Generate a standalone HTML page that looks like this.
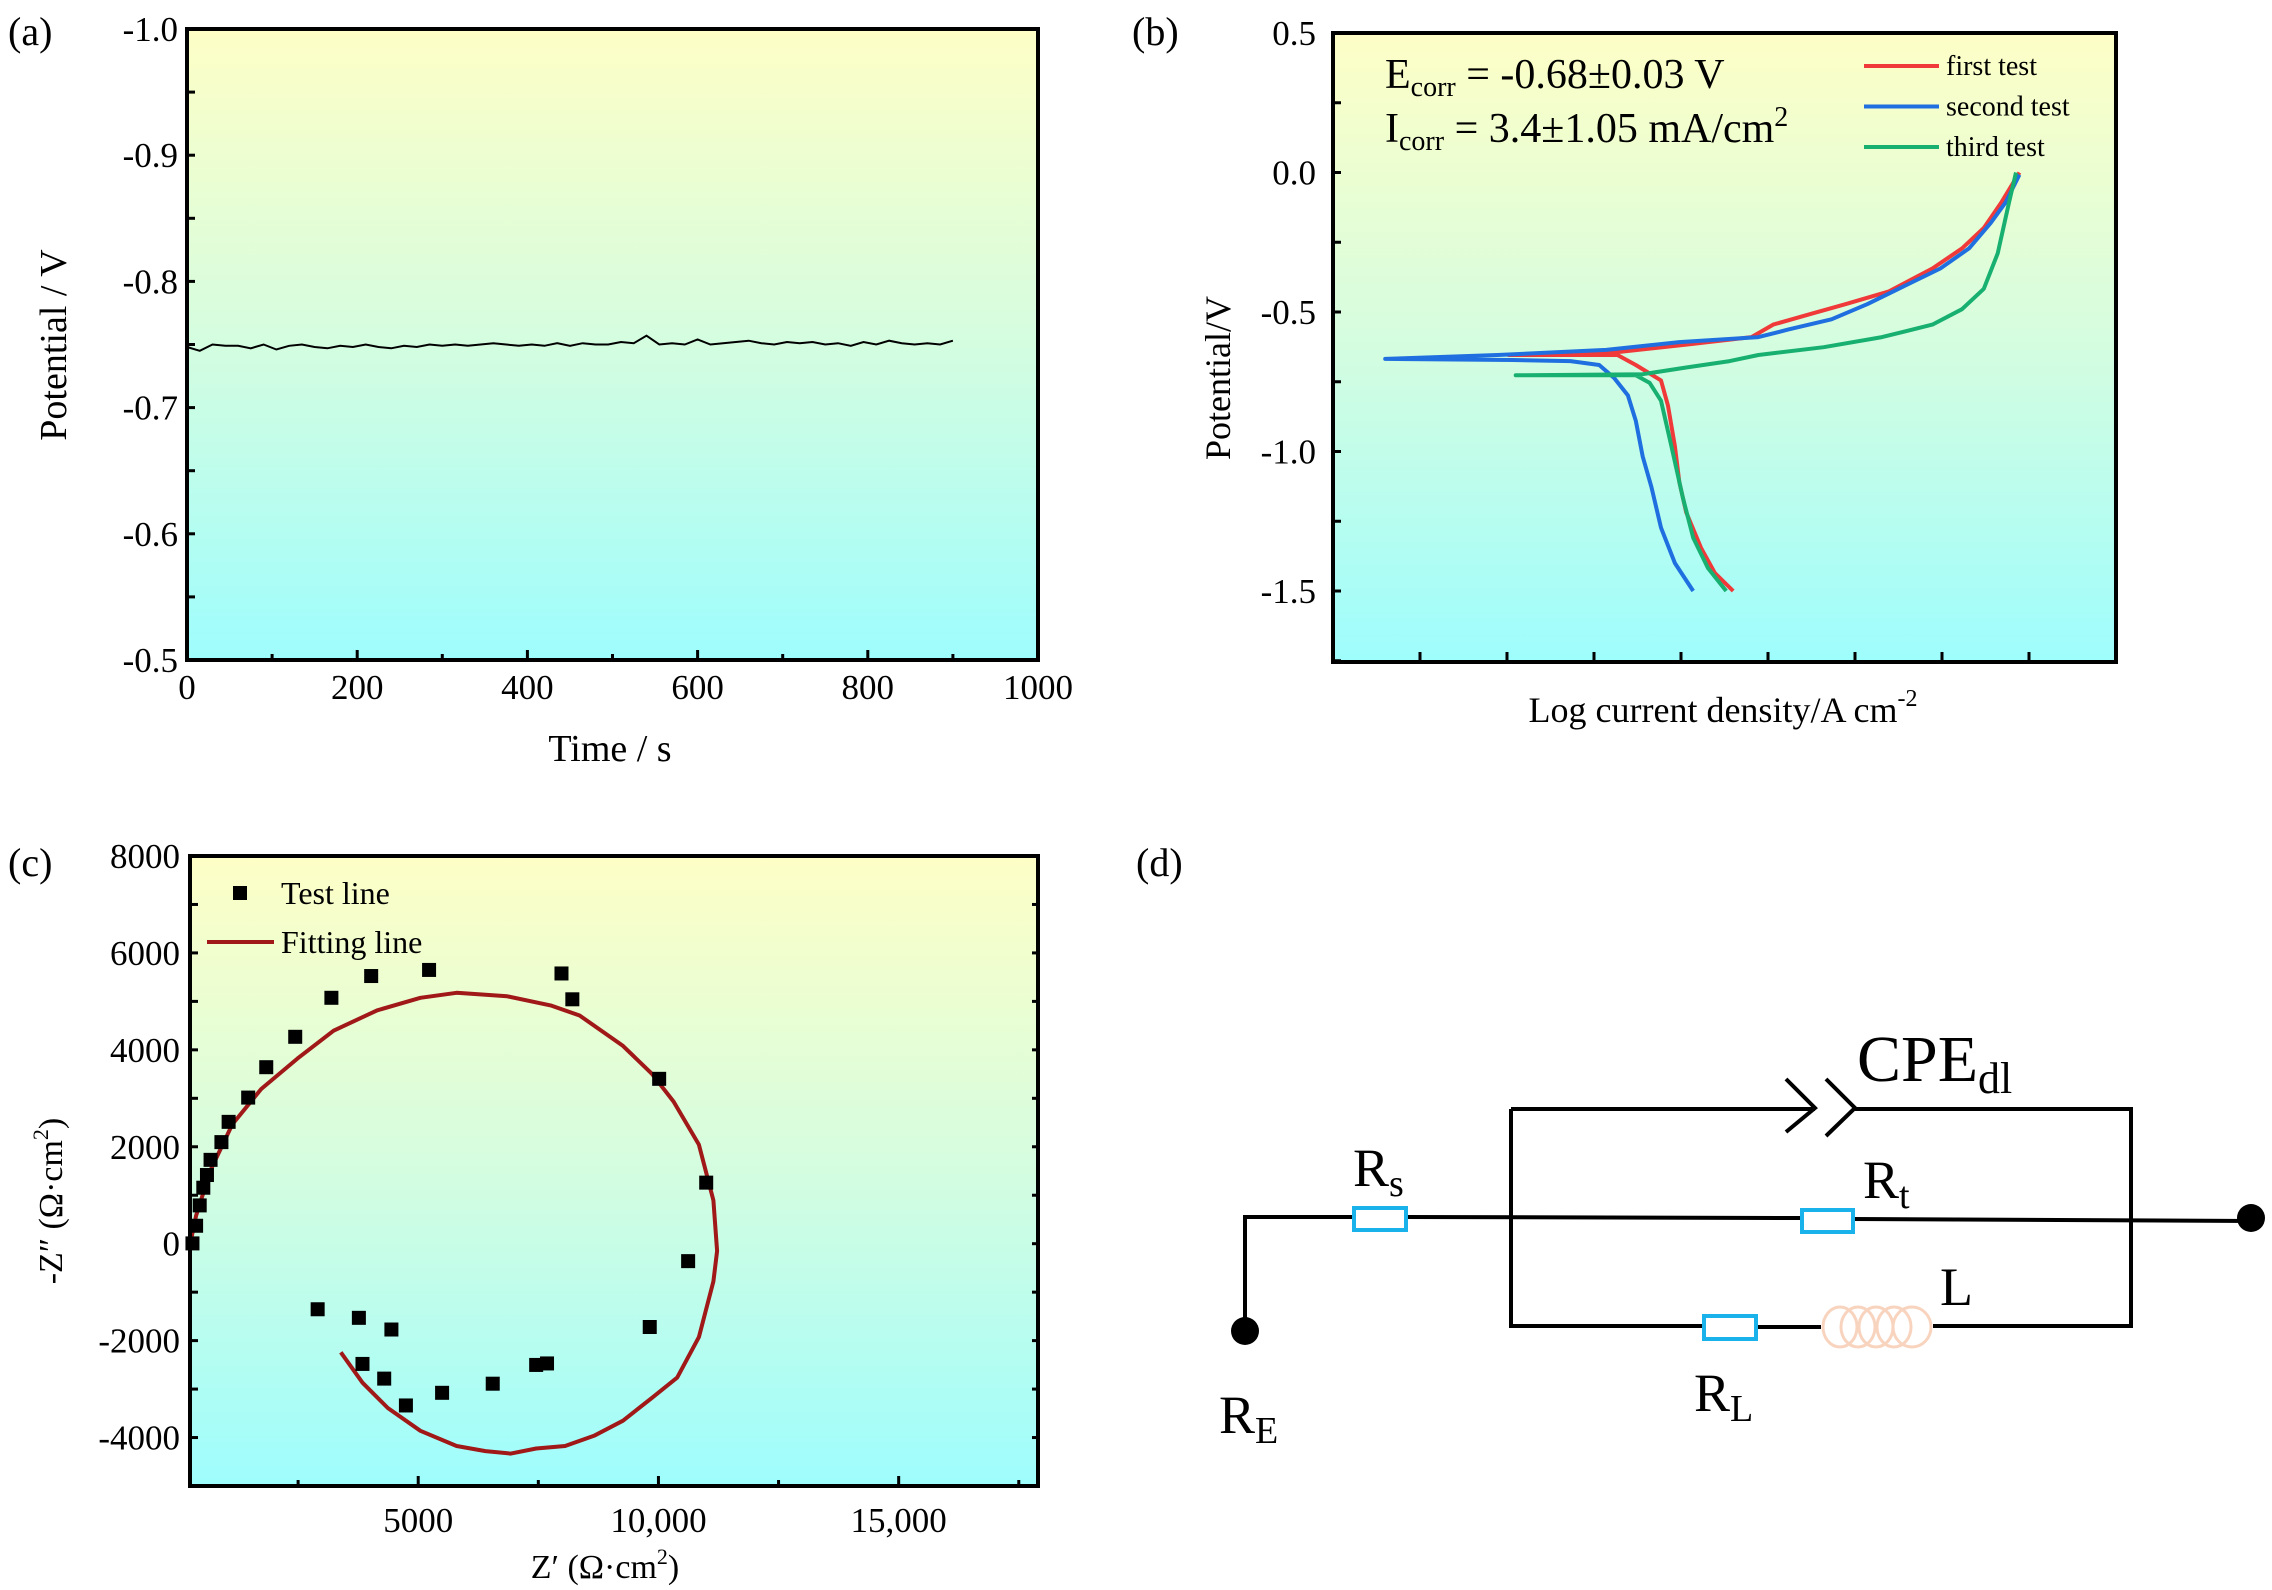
<!DOCTYPE html>
<html><head><meta charset="utf-8"><style>
html,body{margin:0;padding:0;background:#fff;}
svg{display:block;font-family:"Liberation Serif",serif;}
</style></head><body>
<svg id="fig" xmlns="http://www.w3.org/2000/svg" width="2272" height="1590" viewBox="0 0 2272 1590">
<defs>
<linearGradient id="bg" x1="0" y1="0" x2="0" y2="1"><stop offset="0" stop-color="#fefec6"/><stop offset="0.5" stop-color="#d4fde0"/><stop offset="1" stop-color="#9efdfd"/></linearGradient>
</defs>
<g id="pa"></g>
<g id="pb"></g>
<g id="pc"></g>
<g id="pd">
<text x="1136" y="876" font-size="40">(d)</text>
<g stroke="#000" stroke-width="4" fill="none">
<polyline points="1245,1331 1245,1217 1353,1217"/>
<line x1="1406" y1="1217" x2="1801" y2="1218"/>
<line x1="1853" y1="1219" x2="2251" y2="1221"/>
<polyline points="1511,1109 1511,1326 1703,1326"/>
<line x1="1511" y1="1109" x2="1815" y2="1109"/>
<polyline points="1786,1079 1815,1108 1786,1132"/>
<polyline points="1826,1079 1855,1108 1826,1136"/>
<polyline points="1855,1109 2131,1109 2131,1326 1933,1326"/>
<line x1="1756" y1="1327" x2="1821" y2="1327"/>
</g>
<g fill="#fff" stroke="#1ab2ea" stroke-width="4">
<rect x="1354" y="1208" width="52" height="22"/>
<rect x="1802" y="1210" width="51" height="22"/>
<rect x="1704" y="1316" width="52" height="23"/>
</g>
<g fill="none" stroke="#f8d4bf" stroke-width="3">
<ellipse cx="1840" cy="1327" rx="17" ry="20"/><ellipse cx="1858" cy="1327" rx="17" ry="20"/><ellipse cx="1876" cy="1327" rx="17" ry="20"/><ellipse cx="1894" cy="1327" rx="17" ry="20"/><ellipse cx="1912" cy="1327" rx="19" ry="20"/>
</g>
<circle cx="1245" cy="1331" r="14" fill="#000"/>
<circle cx="2251" cy="1218" r="14" fill="#000"/>
<text x="1857" y="1081" font-size="66">CPE<tspan font-size="44" dy="12">dl</tspan></text>
<text x="1353" y="1186" font-size="54">R<tspan font-size="38" dy="10">s</tspan></text>
<text x="1863" y="1198" font-size="54">R<tspan font-size="38" dy="10">t</tspan></text>
<text x="1940" y="1305" font-size="54">L</text>
<text x="1694" y="1411" font-size="54">R<tspan font-size="38" dy="10">L</tspan></text>
<text x="1219" y="1433" font-size="54">R<tspan font-size="38" dy="10">E</tspan></text>
</g>
</svg>
<script>
// ---------- Panel (a) data ----------
const aTimes = [0,15,30,45,60,75,90,105,120,135,150,165,180,195,210,225,240,255,270,285,300,315,330,345,360,375,390,405,420,435,450,465,480,495,510,525,540,555,570,585,600,615,630,645,660,675,690,705,720,735,750,765,780,795,810,825,840,855,870,885,900];
const aPotential = [-0.748,-0.745,-0.750,-0.749,-0.749,-0.747,-0.750,-0.746,-0.749,-0.750,-0.748,-0.747,-0.749,-0.748,-0.750,-0.748,-0.747,-0.749,-0.748,-0.750,-0.749,-0.750,-0.749,-0.750,-0.751,-0.750,-0.749,-0.750,-0.749,-0.751,-0.749,-0.751,-0.750,-0.750,-0.752,-0.751,-0.757,-0.750,-0.751,-0.750,-0.754,-0.750,-0.751,-0.752,-0.753,-0.751,-0.750,-0.752,-0.751,-0.752,-0.750,-0.751,-0.749,-0.752,-0.750,-0.753,-0.751,-0.750,-0.751,-0.750,-0.753];
const aXTicks = [0,200,400,600,800,1000];
const aYTicks = [-1.0,-0.9,-0.8,-0.7,-0.6,-0.5];
const aYTickLabels = ["-1.0","-0.9","-0.8","-0.7","-0.6","-0.5"];

// ---------- Panel (b) data (x in log-decade tick units) ----------
const bSeriesNames = ["first test","second test","third test"];
const bFirstX = [3.6,3.39,3.23,3.06,2.98,2.93,2.85,2.77,2.48,2.27,1.02,2.23,3.06,3.81,4.06,4.48,4.89,5.39,5.89,6.23,6.48,6.68,6.89];
const bFirstY = [-1.5,-1.436,-1.345,-1.218,-1.109,-0.981,-0.836,-0.745,-0.69,-0.654,-0.654,-0.645,-0.617,-0.59,-0.545,-0.508,-0.472,-0.426,-0.344,-0.272,-0.199,-0.108,0.0];
const bSecondX = [3.14,2.93,2.77,2.66,2.56,2.48,2.39,2.23,2.06,1.73,1.06,-0.4,0.89,2.14,2.98,3.89,4.23,4.73,5.14,5.56,5.98,6.31,6.56,6.73,6.89];
const bSecondY = [-1.5,-1.4,-1.273,-1.127,-1.018,-0.89,-0.799,-0.736,-0.69,-0.676,-0.672,-0.668,-0.654,-0.636,-0.608,-0.59,-0.563,-0.526,-0.472,-0.408,-0.344,-0.272,-0.181,-0.108,-0.008];
const bThirdX = [3.52,3.31,3.14,3.02,2.89,2.77,2.64,2.48,1.1,2.56,3.06,3.56,3.89,4.64,5.31,5.89,6.23,6.48,6.64,6.77,6.85];
const bThirdY = [-1.5,-1.418,-1.309,-1.163,-0.981,-0.818,-0.754,-0.727,-0.727,-0.723,-0.699,-0.676,-0.654,-0.626,-0.59,-0.545,-0.49,-0.417,-0.29,-0.108,0.0];
const bXTicks = [0,1,2,3,4,5,6,7];
const bYTicks = [0.5,0.0,-0.5,-1.0,-1.5];
const bYTickLabels = ["0.5","0.0","-0.5","-1.0","-1.5"];

// ---------- Panel (c) data ----------
const cTestZr = [301,377,452,527,603,678,904,1054,1461,1837,2440,3193,4021,5226,7982,8208,10015,10994,10618,9819,7455,7681,6551,5497,4744,4292,3840,4442,3765,2907];
const cTestZi = [6,370,790,1155,1417,1730,2096,2514,3015,3642,4269,5074,5523,5649,5576,5043,3402,1260,-360,-1719,-2502,-2471,-2889,-3077,-3338,-2784,-2481,-1771,-1530,-1353];
const cFitZr = [256,377,678,1130,1732,2485,3238,4142,5045,5798,6852,7756,8358,9262,9864,10316,10843,11144,11220,11144,10843,10391,9864,9262,8659,8057,7455,6928,6400,5798,5045,4367,3840,3389];
const cFitZi = [6,580,1521,2462,3193,3820,4395,4813,5074,5178,5105,4917,4708,4081,3506,2932,2044,894,-151,-778,-1928,-2764,-3182,-3652,-3965,-4174,-4227,-4331,-4279,-4174,-3861,-3391,-2868,-2241];
const cXTicks = [5000,10000,15000];
const cXTickLabels = ["5000","10,000","15,000"];
const cYTicks = [8000,6000,4000,2000,0,-2000,-4000];
const cYTickLabels = ["8000","6000","4000","2000","0","-2000","-4000"];

const NS = "http://www.w3.org/2000/svg";
function mk(parent, tag, attrs, txt){
  const e = document.createElementNS(NS, tag);
  for (const k in attrs) e.setAttribute(k, attrs[k]);
  if (txt !== undefined) e.textContent = txt;
  parent.appendChild(e);
  return e;
}
function scale(d0,d1,r0,r1){ return v => r0 + (v-d0)/(d1-d0)*(r1-r0); }

// ===== Panel A =====
(function(){
  const g = document.getElementById('pa');
  const L=187,R=1038,T=29,B=660;
  const x = scale(0,1000,L,R), y = scale(-1.0,-0.5,T,B);
  const bg = mk(g,'rect',{x:L,y:T,width:R-L,height:B-T,fill:'url(#bg)'});
  
  
  let d = aTimes.map((t,i)=>(i?'L':'M')+x(t).toFixed(1)+','+y(aPotential[i]).toFixed(1)).join(' ');
  const p = mk(g,'path',{d:d,fill:'none',stroke:'#000','stroke-width':2});
  
  
  const fr = mk(g,'rect',{x:L,y:T,width:R-L,height:B-T,fill:'none',stroke:'#000','stroke-width':4});
  
  
  for (let t=0;t<=1000;t+=100){ const l=mk(g,'line',{x1:x(t),x2:x(t),y1:B,y2:B-(t%200===0?10:6),stroke:'#000','stroke-width':3});
      }
  for (let v=-1.0; v<=-0.49; v+=0.05){ const l=mk(g,'line',{x1:L,x2:L+8,y1:y(v),y2:y(v),stroke:'#000','stroke-width':3});
      }
  aXTicks.forEach(t=>{ const e=mk(g,'text',{x:x(t),y:699,'font-size':35,'text-anchor':'middle'},String(t));
      });
  aYTicks.forEach((v,i)=>{ const e=mk(g,'text',{x:178,y:y(v)+12,'font-size':35,'text-anchor':'end'},aYTickLabels[i]);
      });
  let e=mk(g,'text',{x:610,y:761,'font-size':38,'text-anchor':'middle'},'Time / s');
   
  e=mk(g,'text',{x:0,y:0,'font-size':38,'text-anchor':'middle',transform:'translate(66,345) rotate(-90)'},'Potential / V');
   
  e=mk(g,'text',{x:8,y:45,'font-size':40},'(a)');
   
})();

// ===== Panel B =====
(function(){
  const g = document.getElementById('pb');
  const L=1333,R=2116,T=33,B=662;
  const x = scale(-1,8,L,R), y = scale(0.5,-1.5,T,591);
  const bg = mk(g,'rect',{x:L,y:T,width:R-L,height:B-T,fill:'url(#bg)'});
  
  
  const series=[[bFirstX,bFirstY,'#f03a3a'],[bSecondX,bSecondY,'#1f6fe0'],[bThirdX,bThirdY,'#18b070']];
  series.forEach((s,k)=>{
    const d = s[0].map((v,i)=>(i?'L':'M')+x(v).toFixed(1)+','+y(s[1][i]).toFixed(1)).join(' ');
    const p = mk(g,'path',{d:d,fill:'none',stroke:s[2],'stroke-width':4,'stroke-linejoin':'round'});
    
    
    const ly = 66+k*40.5;
    const ll = mk(g,'line',{x1:1864,x2:1939,y1:ly,y2:ly,stroke:s[2],'stroke-width':4});
    
    
    const lt = mk(g,'text',{x:1946,y:ly+9,'font-size':28},bSeriesNames[k]);
    
    
  });
  const fr = mk(g,'rect',{x:L,y:T,width:R-L,height:B-T,fill:'none',stroke:'#000','stroke-width':4});
  
  
  bXTicks.forEach(t=>{ const l=mk(g,'line',{x1:x(t),x2:x(t),y1:B,y2:B-10,stroke:'#000','stroke-width':3});
      });
  for (let v=0.5; v>=-1.76; v-=0.25){ const l=mk(g,'line',{x1:L,x2:L+8,y1:y(v),y2:y(v),stroke:'#000','stroke-width':3});
      }
  bYTicks.forEach((v,i)=>{ const e=mk(g,'text',{x:1316,y:y(v)+12,'font-size':35,'text-anchor':'end'},bYTickLabels[i]);
      });
  let e=mk(g,'text',{x:1723,y:722,'font-size':36,'text-anchor':'middle'},'Log current density/A cm');
  const sup=mk(e,'tspan',{'font-size':24,dy:-16},'-2');
   
  e=mk(g,'text',{x:0,y:0,'font-size':36,'text-anchor':'middle',transform:'translate(1230,378) rotate(-90)'},'Potential/V');
   
  e=mk(g,'text',{x:1132,y:45,'font-size':40},'(b)');
   
  e=mk(g,'text',{x:1385,y:88,'font-size':42},'');
  e.innerHTML='E<tspan font-size="28" dy="8">corr</tspan><tspan dy="-8"> = -0.68±0.03 V</tspan>';
   
  e=mk(g,'text',{x:1385,y:142,'font-size':42},'');
  e.innerHTML='I<tspan font-size="28" dy="8">corr</tspan><tspan dy="-8"> = 3.4±1.05 mA/cm</tspan><tspan font-size="28" dy="-16">2</tspan>';
   
})();

// ===== Panel C =====
(function(){
  const g = document.getElementById('pc');
  const L=190,R=1038,T=856,B=1486;
  const x = scale(250,17900,L,R), y = scale(8000,-5000,T,B);
  const bg = mk(g,'rect',{x:L,y:T,width:R-L,height:B-T,fill:'url(#bg)'});
  
  
  const d = cFitZr.map((v,i)=>(i?'L':'M')+x(v).toFixed(1)+','+y(cFitZi[i]).toFixed(1)).join(' ');
  const p = mk(g,'path',{d:d,fill:'none',stroke:'#a01818','stroke-width':4,'stroke-linejoin':'round'});
  
  
  cTestZr.forEach((v,i)=>{
    const r = mk(g,'rect',{x:x(v)-7,y:y(cTestZi[i])-7,width:14,height:14,fill:'#000'});
    
    
  });
  const fr = mk(g,'rect',{x:L,y:T,width:R-L,height:B-T,fill:'none',stroke:'#000','stroke-width':4});
  
  
  for (let t=2500;t<=17500;t+=2500){ const l=mk(g,'line',{x1:x(t),x2:x(t),y1:B,y2:B-(t%5000===0?10:6),stroke:'#000','stroke-width':3});
      }
  for (let v=8000; v>=-5000; v-=1000){ const l=mk(g,'line',{x1:L,x2:L+8,y1:y(v),y2:y(v),stroke:'#000','stroke-width':3});
     
    const l2=mk(g,'line',{x1:R,x2:R-6,y1:y(v),y2:y(v),stroke:'#000','stroke-width':3});
      }
  cXTicks.forEach((t,i)=>{ const e=mk(g,'text',{x:x(t),y:1532,'font-size':35,'text-anchor':'middle'},cXTickLabels[i]);
      });
  cYTicks.forEach((v,i)=>{ const e=mk(g,'text',{x:180,y:y(v)+12,'font-size':35,'text-anchor':'end'},cYTickLabels[i]);
      });
  let e=mk(g,'text',{x:605,y:1578,'font-size':34,'text-anchor':'middle'},'');
  e.innerHTML='Z′ (Ω·cm<tspan font-size="22" dy="-14">2</tspan><tspan dy="14">)</tspan>';
   
  e=mk(g,'text',{x:0,y:0,'font-size':34,'text-anchor':'middle',transform:'translate(62,1201) rotate(-90)'},'');
  e.innerHTML='-Z″ (Ω·cm<tspan font-size="22" dy="-14">2</tspan><tspan dy="14">)</tspan>';
   
  e=mk(g,'text',{x:8,y:876,'font-size':40},'(c)');
   
  let s=mk(g,'rect',{x:233,y:886,width:14,height:14,fill:'#000'});
   
  e=mk(g,'text',{x:281,y:904,'font-size':32},'Test line');
   
  s=mk(g,'line',{x1:207,x2:274,y1:942,y2:942,stroke:'#a01818','stroke-width':4});
   
  e=mk(g,'text',{x:281,y:953,'font-size':32},'Fitting line');
   
})();
</script>
</body></html>
